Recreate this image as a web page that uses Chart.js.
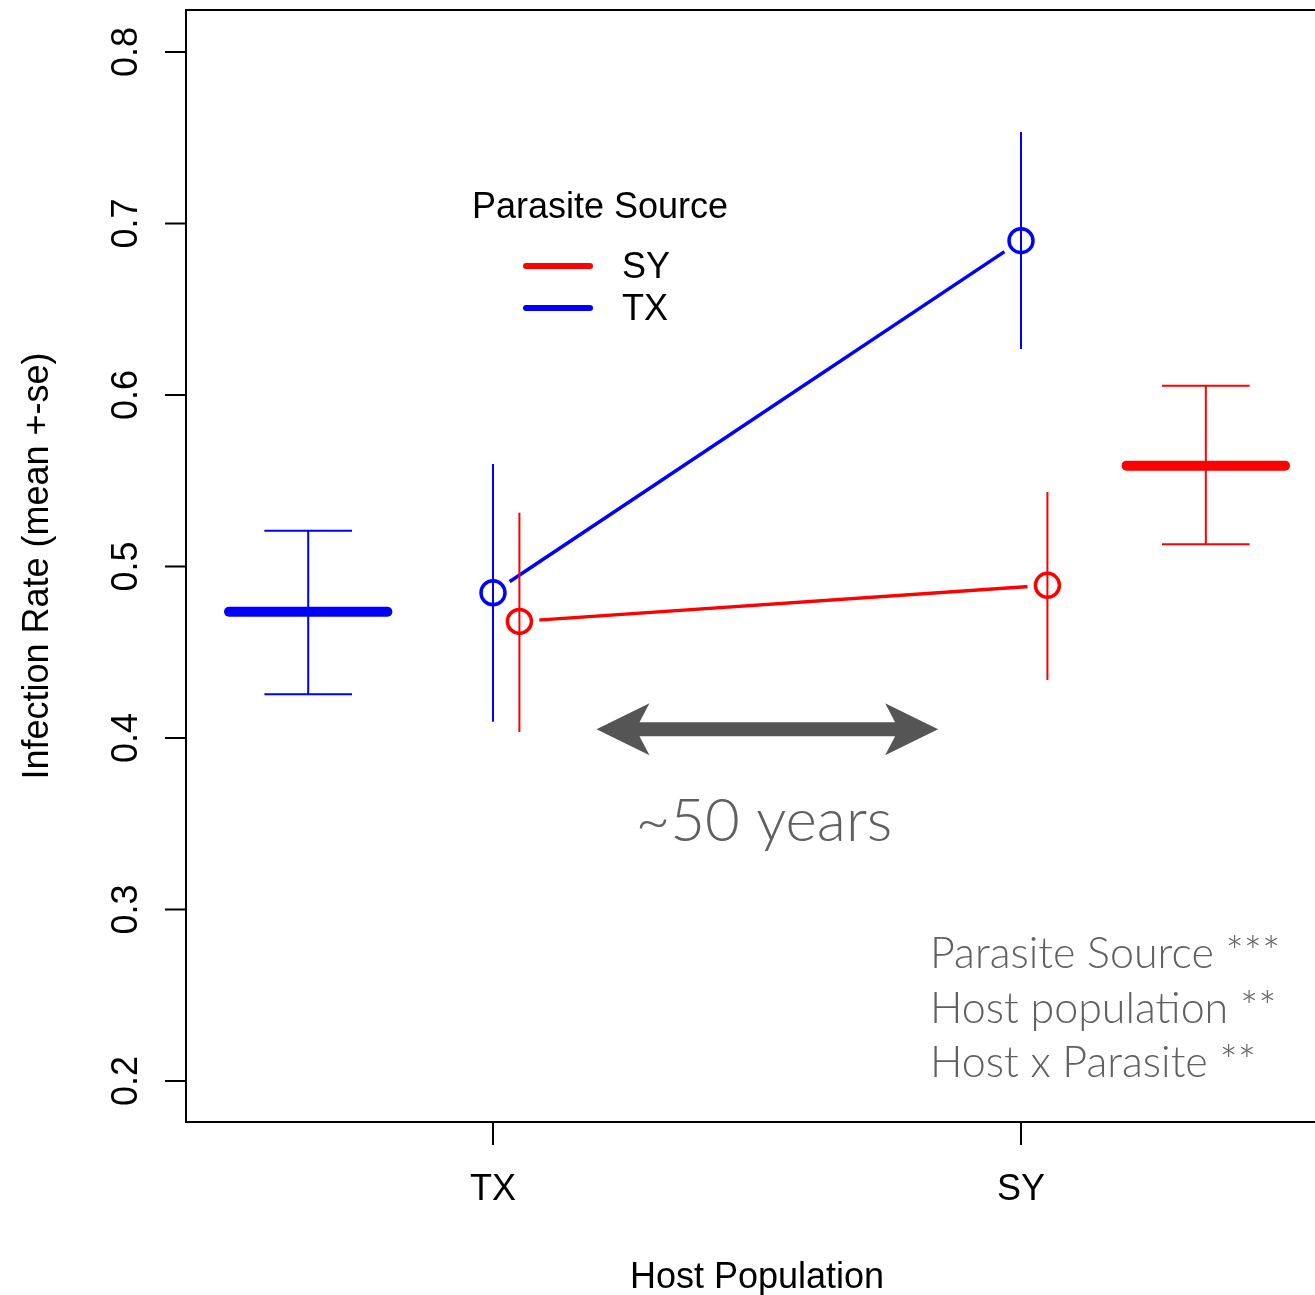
<!DOCTYPE html>
<html>
<head>
<meta charset="utf-8">
<script src="https://cdn.jsdelivr.net/npm/chart.js@4"></script>
<style>
  body { margin: 0; background: #fff; }
  #wrap { width: 1315px; height: 1295px; }
</style>
</head>
<body>
<div id="wrap"><canvas id="chart" width="1315" height="1295"></canvas></div>
<script>
// Host populations on the x axis (1 = TX, 2 = SY)
const hostLabels = ['TX', 'SY'];
const hostPos = [1, 2];
const yTicks = [0.2, 0.3, 0.4, 0.5, 0.6, 0.7, 0.8];

// Parasite source SY (red), drawn slightly to the right of each host
const syPos = [1.05, 2.05];
const syMean = [0.468, 0.489];
const syLow = [0.4035, 0.4338];
const syHigh = [0.5314, 0.5434];

// Parasite source TX (blue)
const txPos = [1, 2];
const txMean = [0.4847, 0.690];
const txLow = [0.4095, 0.6268];
const txHigh = [0.5598, 0.7534];

// Overall means per parasite source (blue = TX on the left, red = SY on the right)
const margPos = [0.65, 2.35];
const margMean = [0.4736, 0.5588];
const margLow = [0.4255, 0.5129];
const margHigh = [0.5209, 0.6054];

const RED = '#ff0000';
const BLUE = '#0000ff';

// helpers to turn the arrays into point lists
function pts(xs, ys) {
    return xs.map((x, i) => ({ x: x, y: ys[i] }));
}
function vBars(xs, lo, hi) {
    const out = [];
    xs.forEach((x, i) => { out.push({ x: x, y: lo[i] }, { x: x, y: hi[i] }, { x: x, y: null }); });
    return out;
}
function hBars(xs, ys, half) {
    const out = [];
    xs.forEach((x, i) => { out.push({ x: x - half, y: ys[i] }, { x: x + half, y: ys[i] }, { x: x, y: null }); });
    return out;
}

// Axes, legend and the text notes, all placed through the scales
const decorations = {
    id: 'decorations',
    afterDatasetsDraw(chart) {
        const { ctx, chartArea: a, scales: { x, y } } = chart;
        ctx.save();
        ctx.strokeStyle = '#000';
        ctx.lineWidth = 2;
        ctx.beginPath();
        ctx.moveTo(a.right + 5, a.top);
        ctx.lineTo(a.left, a.top);
        ctx.lineTo(a.left, a.bottom);
        ctx.lineTo(a.right + 5, a.bottom);
        ctx.stroke();

        ctx.fillStyle = '#000';
        ctx.font = '36px "Liberation Sans", Arial, sans-serif';
        y.ticks.forEach(t => {
            const py = y.getPixelForValue(t.value);
            ctx.beginPath();
            ctx.moveTo(a.left - 21, py);
            ctx.lineTo(a.left, py);
            ctx.stroke();
            ctx.save();
            ctx.translate(a.left - 49, py);
            ctx.rotate(-Math.PI / 2);
            ctx.textAlign = 'center';
            ctx.fillText(t.value.toFixed(1), 0, 0);
            ctx.restore();
        });
        x.ticks.forEach((t, i) => {
            const px = x.getPixelForValue(t.value);
            ctx.beginPath();
            ctx.moveTo(px, a.bottom);
            ctx.lineTo(px, a.bottom + 23);
            ctx.stroke();
            ctx.textAlign = 'center';
            ctx.fillText(hostLabels[i], px, a.bottom + 78);
        });

        // axis titles
        ctx.textAlign = 'center';
        ctx.fillText('Host Population', 757, 1288);
        ctx.save();
        ctx.translate(48, (a.top + a.bottom) / 2);
        ctx.rotate(-Math.PI / 2);
        ctx.fillText('Infection Rate (mean +-se)', 0, 0);
        ctx.restore();

        // legend
        ctx.textAlign = 'left';
        ctx.fillText('Parasite Source', 472, 218);
        ctx.lineCap = 'round';
        ctx.lineWidth = 6;
        [[RED, 'SY', 266, 278], [BLUE, 'TX', 308, 320]].forEach(([c, lab, ly, by]) => {
            ctx.strokeStyle = c;
            ctx.beginPath();
            ctx.moveTo(526, ly);
            ctx.lineTo(590, ly);
            ctx.stroke();
            ctx.fillText(lab, 622, by);
        });

        // ~50 years arrow
        const x0 = x.getPixelForValue(1.196);
        const x1 = x.getPixelForValue(1.843);
        const ay = y.getPixelForValue(0.4051);
        ctx.fillStyle = '#555555';
        ctx.beginPath();
        ctx.moveTo(x0, ay);
        ctx.lineTo(x0 + 53, ay - 26);
        ctx.lineTo(x0 + 43, ay - 7);
        ctx.lineTo(x1 - 43, ay - 7);
        ctx.lineTo(x1 - 53, ay - 26);
        ctx.lineTo(x1, ay);
        ctx.lineTo(x1 - 53, ay + 26);
        ctx.lineTo(x1 - 43, ay + 7);
        ctx.lineTo(x0 + 43, ay + 7);
        ctx.lineTo(x0 + 53, ay + 26);
        ctx.closePath();
        ctx.fill();

        ctx.fillStyle = '#606060';
        ctx.font = '300 60px Lato, "Open Sans", sans-serif';
        ctx.textAlign = 'center';
        ctx.fillText('~50 years', x.getPixelForValue(1.513), ay + 112);

        ctx.font = '300 43px Lato, "Open Sans", sans-serif';
        ctx.textAlign = 'left';
        const notes = ['Parasite Source ***', 'Host population **', 'Host x Parasite **'];
        notes.forEach((s, i) => ctx.fillText(s, 930, 968 + i * 54.5));
        ctx.restore();
    }
};

const ctx = document.getElementById('chart').getContext('2d');
new Chart(ctx, {
    type: 'line',
    data: {
        datasets: [
            // open circles on top
            { data: pts(syPos, syMean), showLine: false, pointRadius: 12, pointBorderWidth: 3.5,
              pointBorderColor: RED, pointBackgroundColor: 'rgba(0,0,0,0)', order: 0 },
            { data: pts(txPos, txMean), showLine: false, pointRadius: 12, pointBorderWidth: 3.5,
              pointBorderColor: BLUE, pointBackgroundColor: 'rgba(0,0,0,0)', order: 0 },
            // error bars
            { data: vBars(syPos, syLow, syHigh), borderColor: RED, borderWidth: 2, order: 1 },
            { data: vBars(txPos, txLow, txHigh), borderColor: BLUE, borderWidth: 2, order: 1 },
            // overall means with error bars and caps
            { data: pts([margPos[0] - 0.15, margPos[0] + 0.15], [margMean[0], margMean[0]]),
              borderColor: BLUE, borderWidth: 10, borderCapStyle: 'round', order: 1 },
            { data: pts([margPos[1] - 0.15, margPos[1] + 0.15], [margMean[1], margMean[1]]),
              borderColor: RED, borderWidth: 10, borderCapStyle: 'round', order: 1 },
            { data: vBars([margPos[0]], [margLow[0]], [margHigh[0]])
                .concat(hBars([margPos[0], margPos[0]], [margLow[0], margHigh[0]], 0.083)),
              borderColor: BLUE, borderWidth: 2, order: 1 },
            { data: vBars([margPos[1]], [margLow[1]], [margHigh[1]])
                .concat(hBars([margPos[1], margPos[1]], [margLow[1], margHigh[1]], 0.083)),
              borderColor: RED, borderWidth: 2, order: 1 },
            // connecting lines, white pads leave the gap around each circle
            { data: pts(syPos, syMean), borderColor: RED, borderWidth: 3.5, pointRadius: 20,
              pointBorderWidth: 0, pointBackgroundColor: '#fff', order: 2 },
            { data: pts(txPos, txMean), borderColor: BLUE, borderWidth: 3.5, pointRadius: 20,
              pointBorderWidth: 0, pointBackgroundColor: '#fff', order: 2 }
        ]
    },
    options: {
        responsive: false,
        animation: false,
        events: [],
        layout: { autoPadding: false, padding: { top: 10, right: 0, left: 0, bottom: 0 } },
        elements: { point: { radius: 0 }, line: { tension: 0 } },
        plugins: { legend: { display: false }, tooltip: { enabled: false } },
        scales: {
            x: {
                type: 'linear', min: 0.41856, max: 2.5568,
                grid: { display: false }, border: { display: false },
                ticks: { display: false },
                afterBuildTicks(s) { s.ticks = hostPos.map(v => ({ value: v })); },
                afterFit(s) { s.height = 173; }
            },
            y: {
                min: 0.17609, max: 0.82449,
                grid: { display: false }, border: { display: false },
                ticks: { display: false },
                afterBuildTicks(s) { s.ticks = yTicks.map(v => ({ value: v })); },
                afterFit(s) { s.width = 186; }
            }
        }
    },
    plugins: [decorations]
});
</script>
</body>
</html>
